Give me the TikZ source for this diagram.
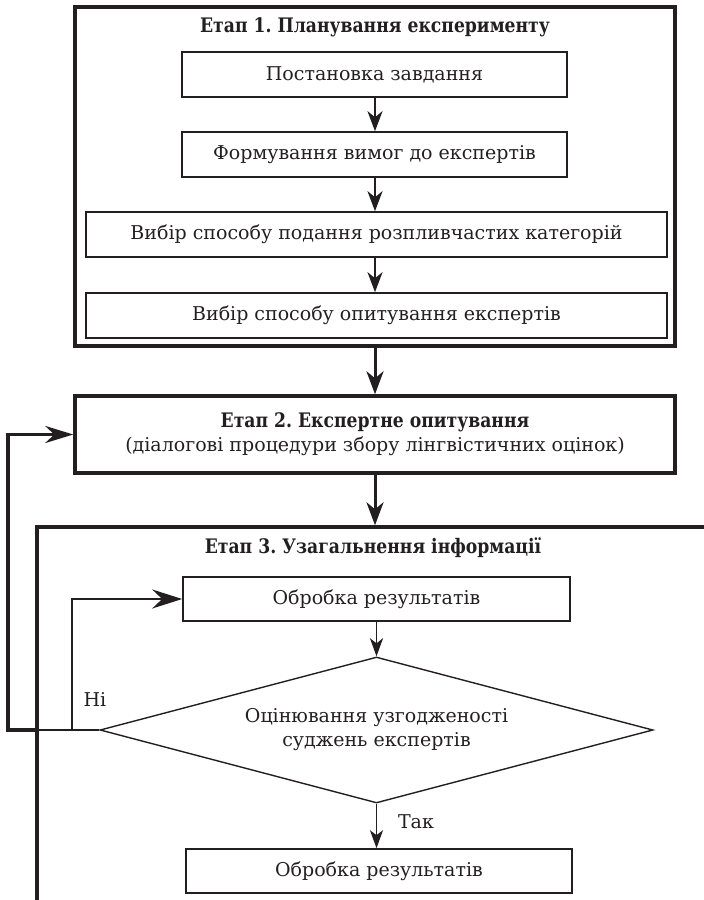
\documentclass[tikz,border=0pt]{standalone}
\usepackage{fontspec}
\setmainfont{DejaVu Serif}
\newfontfamily\headfont[FakeStretch=0.86]{DejaVu Serif}
\usetikzlibrary{arrows.meta,shapes.geometric}
\definecolor{ink}{RGB}{35,31,32}
\frenchspacing

\begin{document}
\begin{tikzpicture}[x=1pt,y=-1pt,
  every node/.style={text=ink, font=\fontsize{19}{24}\selectfont, inner sep=0pt},
  stage/.style={draw=ink, line width=3.4pt, rectangle},
  stepbox/.style={draw=ink, line width=1.6pt, rectangle, minimum height=45pt},
  headtext/.style={font=\fontsize{20}{24}\selectfont\headfont\bfseries},
  decision/.style={draw=ink, line width=1.4pt, diamond, minimum width=553pt,
    minimum height=146pt, aspect=3.79, align=center},
  flowA/.style={draw=ink, line width=2.2pt, -{Stealth[length=20pt,width=15pt,inset=6pt]}},
  flowB/.style={draw=ink, line width=3pt, -{Stealth[length=23pt,width=17pt,inset=7pt]}},
  flowC/.style={draw=ink, line width=1.7pt, -{Stealth[length=18pt,width=13pt,inset=5pt]}},
  loopthick/.style={draw=ink, line width=3.4pt, -{Stealth[length=28pt,width=17pt,inset=9pt]}},
  loopthin/.style={draw=ink, line width=1.6pt, -{Stealth[length=30pt,width=19pt,inset=10pt]}},
  thinline/.style={draw=ink, line width=1.6pt},
  frameline/.style={draw=ink, line width=3.4pt}
]
\useasboundingbox (0,0) rectangle (704,900);

% Stage 1: planning
\node[stage, minimum width=600pt, minimum height=339pt] (st1) at (375,176.5) {};
\node[headtext] (t1) at (375,27) {Етап 1. Планування експерименту};
\node[stepbox, minimum width=385pt] (b1) at (374.5,74.5) {Постановка завдання};
\node[stepbox, minimum width=385pt] (b2) at (374.5,154.5) {Формування вимог до експертів};
\node[stepbox, minimum width=581pt] (b3) at (376.5,234.5) {Вибір способу подання розпливчастих категорій};
\node[stepbox, minimum width=581pt] (b4) at (376.5,315.5) {Вибір способу опитування експертів};
\draw[flowA] (b1.south -| t1) -- (b2.north -| t1);
\draw[flowA] (b2.south -| t1) -- (b3.north -| t1);
\draw[flowA] (b3.south -| t1) -- (b4.north -| t1);

% Stage 2: expert survey
\node[stage, minimum width=600pt, minimum height=77pt, align=center] (st2) at (375,434.5)
  {{\headfont\bfseries\fontsize{20}{24}\selectfont Етап 2. Експертне опитування}\\(діалогові процедури збору лінгвістичних оцінок)};
\draw[flowB] (st1.south) -- (st2.north);

% Stage 3: generalisation (frame open to the right and bottom)
\coordinate (s3bl) at (37,905);
\coordinate (s3tl) at (37,527);
\coordinate (s3tr) at (710,527);
\coordinate (s3in) at (375,525.3);
\draw[frameline] (s3bl) -- (s3tl) -- (s3tr);
\draw[flowB] (st2.south) -- (s3in);
\node[headtext] (t3) at (373,548) {Етап 3. Узагальнення інформації};

\node[stepbox, minimum width=387pt, minimum height=44pt] (p1) at (376.5,599) {Обробка результатів};
\node[decision] (dec) at (376.5,730) {Оцінювання узгодженості\\суджень експертів};
\node[stepbox, minimum width=386pt, minimum height=44pt] (p2) at (379,871) {Обробка результатів};
\draw[flowC] (p1.south -| dec) -- (dec.north);
\draw[flowC] (dec.south) -- (p2.north -| dec);
\node (yes) at (416,822) {Так};
\node (no) at (95,700) {Ні};

% Feedback loops
\coordinate (jn) at (37,730);
\coordinate (lp) at (8,730);
\coordinate (nb) at (72,730);
\draw[thinline] (dec.west) -- (jn);
\draw[loopthick] (jn) -- (lp) |- (st2.west);
\draw[loopthin] (nb) |- (p1.west);
\end{tikzpicture}
\end{document}
